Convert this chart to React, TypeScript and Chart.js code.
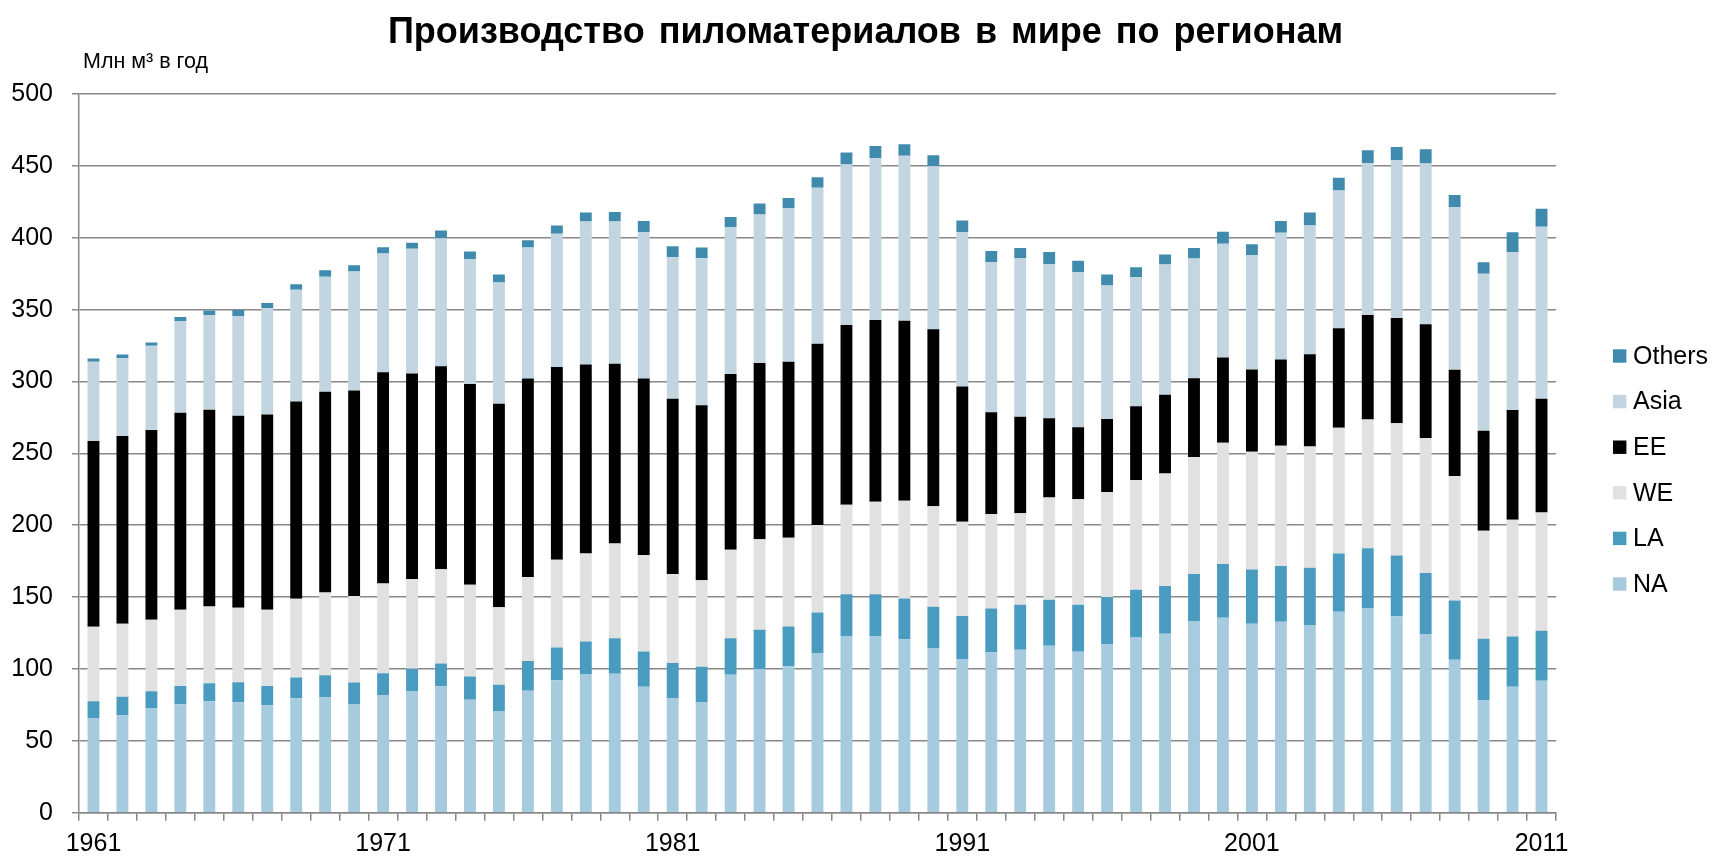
import React, { useEffect, useRef } from 'react';
import { Chart, registerables } from 'chart.js';

Chart.register(...registerables);

const FONT = 'Arial, "Liberation Sans", sans-serif';
const TITLE = 'Производство пиломатериалов в мире по регионам';
const UNIT_LABEL = 'Млн м³ в год';

const years = [
  '1961', '1962', '1963', '1964', '1965', '1966', '1967', '1968', '1969', '1970',
  '1971', '1972', '1973', '1974', '1975', '1976', '1977', '1978', '1979', '1980',
  '1981', '1982', '1983', '1984', '1985', '1986', '1987', '1988', '1989', '1990',
  '1991', '1992', '1993', '1994', '1995', '1996', '1997', '1998', '1999', '2000',
  '2001', '2002', '2003', '2004', '2005', '2006', '2007', '2008', '2009', '2010',
  '2011',
];

const xTickLabels = ['1961', '1971', '1981', '1991', '2001', '2011'];

const yMin = 0;
const yMax = 500;
const yStep = 50;

const naValues = [
  65.5, 67.8, 72.5, 75.5, 77.5, 76.9, 74.8, 79.6, 80.3, 75.2,
  81.5, 84.4, 88.0, 78.6, 70.4, 84.8, 92.2, 96.2, 96.7, 87.7,
  79.4, 76.6, 95.9, 100.0, 101.8, 111.1, 122.9, 122.9, 120.7, 114.6,
  106.9, 111.7, 113.3, 116.2, 112.0, 117.1, 121.9, 124.5, 133.1, 135.7,
  131.5, 132.8, 130.5, 139.8, 142.4, 136.6, 124.3, 106.4, 78.1, 87.7,
  91.8,
];

const laValues = [
  12.0, 12.8, 12.0, 12.7, 12.5, 13.8, 13.4, 14.4, 15.3, 15.3,
  15.5, 15.7, 15.8, 16.2, 18.6, 20.7, 22.7, 22.9, 24.7, 24.4,
  24.7, 25.0, 25.5, 27.2, 27.8, 28.1, 29.0, 29.0, 28.3, 28.7,
  30.0, 30.3, 31.3, 31.9, 32.6, 32.9, 33.2, 33.2, 32.9, 37.3,
  37.7, 38.9, 39.9, 40.5, 41.5, 42.4, 42.5, 41.3, 42.9, 34.8,
  34.8,
];

const weValues = [
  51.9, 50.9, 49.8, 53.0, 53.5, 51.9, 53.0, 54.8, 57.6, 60.2,
  62.5, 62.4, 65.6, 63.8, 54.0, 58.5, 61.0, 61.3, 65.8, 67.2,
  61.9, 60.1, 61.6, 63.1, 61.6, 60.9, 62.3, 64.5, 68.0, 69.9,
  65.5, 65.8, 63.8, 71.2, 73.4, 73.1, 76.3, 78.2, 81.4, 84.3,
  82.0, 83.6, 84.3, 87.5, 89.6, 92.0, 93.8, 86.5, 75.2, 81.3,
  82.2,
];

const eeValues = [
  129.2, 130.5, 131.9, 137.0, 136.8, 133.6, 135.9, 137.3, 139.6, 143.1,
  147.0, 143.0, 141.2, 139.6, 141.5, 138.1, 134.2, 131.4, 125.1, 122.8,
  122.0, 121.7, 122.2, 122.6, 122.6, 126.1, 125.1, 126.4, 125.2, 123.2,
  94.1, 70.8, 67.1, 55.2, 50.1, 50.8, 51.4, 54.9, 54.9, 59.3,
  57.1, 60.0, 64.2, 69.3, 72.8, 73.1, 79.3, 74.0, 69.6, 76.3,
  79.2,
];

const asiaValues = [
  55.1, 54.1, 58.6, 63.9, 65.8, 69.4, 73.8, 77.8, 80.1, 82.8,
  82.6, 86.9, 89.1, 87.0, 84.3, 91.1, 92.7, 99.5, 99.0, 101.9,
  98.4, 102.4, 102.2, 103.2, 106.9, 108.5, 111.7, 112.7, 114.8, 113.3,
  107.5, 104.4, 110.4, 107.2, 107.9, 92.8, 89.7, 90.6, 83.3, 79.2,
  79.5, 88.1, 89.7, 95.7, 105.7, 109.8, 111.7, 113.1, 109.1, 109.9,
  119.6,
];

const othersValues = [
  2.3, 2.7, 2.3, 2.8, 3.2, 4.2, 3.7, 3.7, 4.4, 4.2,
  4.2, 4.1, 5.3, 5.2, 5.7, 5.1, 5.7, 6.3, 6.6, 7.6,
  7.6, 7.4, 7.1, 7.7, 7.0, 7.3, 8.3, 8.3, 8.0, 7.7,
  8.0, 7.7, 7.0, 8.3, 8.0, 7.7, 7.0, 7.0, 7.3, 8.3,
  7.7, 8.3, 8.9, 8.9, 8.9, 9.2, 9.9, 8.5, 8.1, 13.8,
  12.6,
];

const seriesNames = ['NA', 'LA', 'WE', 'EE', 'Asia', 'Others'];
const seriesColors = ['#A6CADE', '#4A9BC0', '#E1E1E1', '#000000', '#C2D5E0', '#408BAD'];
const seriesValues = [naValues, laValues, weValues, eeValues, asiaValues, othersValues];

const GRID_COLOR = '#888888';

const decorPlugin = {
  id: 'decor',
  afterDraw(chart: any) {
    const ctx = chart.ctx;
    ctx.save();
    ctx.fillStyle = '#000';
    ctx.textBaseline = 'alphabetic';

    // Title, drawn word by word with the slightly wider word gaps of the original
    ctx.font = `bold 36px ${FONT}`;
    ctx.textAlign = 'left';
    const words = TITLE.split(' ');
    const gap = ctx.measureText(' ').width + 4;
    const widths = words.map((w: string) => ctx.measureText(w).width);
    const total = widths.reduce((a: number, b: number) => a + b, 0) + gap * (words.length - 1);
    let x = 865.5 - total / 2;
    words.forEach((w: string, i: number) => {
      ctx.fillText(w, x, 43);
      x += widths[i] + gap;
    });

    ctx.font = `21.5px ${FONT}`;
    ctx.fillText(UNIT_LABEL, 83, 68);

    const ds = chart.data.datasets;
    ctx.font = `25px ${FONT}`;
    ctx.textBaseline = 'middle';
    for (let k = 0; k < ds.length; k++) {
      const d = ds[ds.length - 1 - k];
      const cy = 356 + k * 45.6;
      ctx.fillStyle = d.backgroundColor;
      ctx.fillRect(1613, cy - 6.7, 13.4, 13.4);
      ctx.fillStyle = '#000';
      ctx.fillText(d.label, 1633, cy + 1);
    }
    ctx.restore();
  },
};

export default function App() {
  const canvasRef = useRef<HTMLCanvasElement | null>(null);

  useEffect(() => {
    if (!canvasRef.current) return;
    const chart = new Chart(canvasRef.current, {
      type: 'bar',
      data: {
        labels: years,
        datasets: seriesNames.map((name, i) => ({
          label: name,
          data: seriesValues[i],
          backgroundColor: seriesColors[i],
          borderWidth: 0,
          barPercentage: 0.41,
          categoryPercentage: 1,
        })),
      },
      options: {
        animation: false,
        responsive: false,
        devicePixelRatio: 1,
        layout: { padding: { top: 94, right: 161, bottom: 0, left: 0 } },
        plugins: {
          legend: { display: false },
          title: { display: false },
          tooltip: { enabled: false },
        },
        scales: {
          x: {
            stacked: true,
            offset: true,
            grid: {
              offset: true,
              drawOnChartArea: false,
              drawTicks: true,
              tickLength: 8,
              color: GRID_COLOR,
              lineWidth: 1.5,
            },
            border: { color: GRID_COLOR, width: 1.5 },
            ticks: {
              autoSkip: false,
              maxRotation: 0,
              minRotation: 0,
              padding: 8,
              color: '#000',
              font: { size: 25, family: FONT },
              callback: function (this: any, val: any) {
                const l = this.getLabelForValue(val);
                return xTickLabels.includes(l) ? l : '';
              },
            },
            afterFit: (s: any) => {
              s.height = 45.3;
            },
          },
          y: {
            stacked: true,
            min: yMin,
            max: yMax,
            ticks: {
              stepSize: yStep,
              padding: 19,
              color: '#000',
              font: { size: 25, family: FONT },
            },
            grid: {
              color: GRID_COLOR,
              lineWidth: 1.5,
              tickLength: 7,
            },
            border: { color: GRID_COLOR, width: 1.5 },
            afterFit: (s: any) => {
              s.width = 79;
            },
          },
        },
      },
      plugins: [decorPlugin],
    });
    return () => chart.destroy();
  }, []);

  return (
    <div style={{ position: 'absolute', left: 0, top: 0, width: 1717, height: 858, background: '#fff' }}>
      <canvas ref={canvasRef} width={1717} height={858} style={{ display: 'block' }} />
    </div>
  );
}
